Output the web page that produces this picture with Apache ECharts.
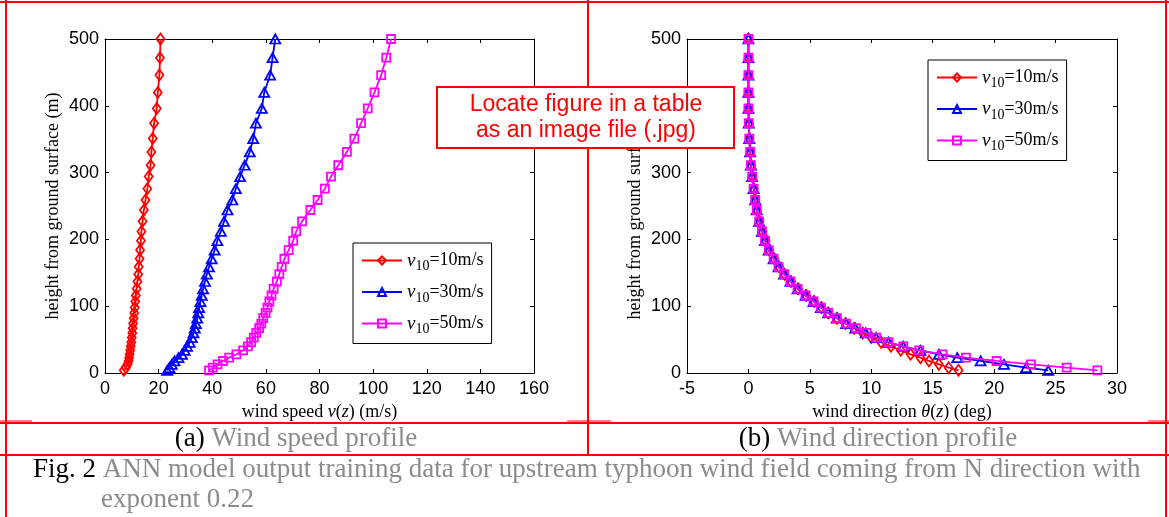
<!DOCTYPE html>
<html><head><meta charset="utf-8">
<script src="https://cdn.jsdelivr.net/npm/echarts@6/dist/echarts.min.js"></script>
<style>html,body{margin:0;padding:0;background:#fff}#c{width:1169px;height:517px}</style>
</head><body><div id="c"></div>
<script>
// heights (m) from ground, shared by all profiles
const heights = [4, 8, 13, 18, 23, 28, 34, 40, 46, 53, 60, 67, 74, 82, 90, 98, 107, 116, 126, 137, 148, 159, 171, 184, 198, 212, 227, 244, 259, 276, 294, 311, 331, 351, 374, 396, 420, 446, 472, 500];
// wind speed v(z) (m/s)
const speed10 = [7.0, 7.8, 8.4, 8.8, 9.0, 9.2, 9.4, 9.6, 9.8, 10.0, 10.2, 10.3, 10.5, 10.7, 10.9, 11.1, 11.3, 11.5, 11.8, 12.1, 12.4, 12.6, 12.9, 13.1, 13.4, 13.6, 14.0, 14.5, 15.1, 15.8, 16.3, 17.0, 17.3, 17.8, 18.3, 19.3, 19.7, 20.3, 20.5, 20.7];
const speed30 = [23.2, 24.0, 24.9, 25.9, 27.4, 28.7, 29.7, 30.6, 31.6, 32.4, 33.0, 33.5, 33.9, 34.4, 34.8, 35.1, 35.6, 36.1, 36.6, 37.3, 38.0, 38.8, 39.8, 40.9, 41.9, 43.2, 44.4, 45.7, 47.5, 48.8, 50.4, 52.1, 54.0, 55.3, 56.3, 58.5, 59.4, 61.6, 62.5, 63.5];
const speed50 = [38.8, 40.2, 42.0, 44.0, 46.3, 49.0, 51.5, 53.3, 54.5, 55.5, 56.4, 57.5, 58.3, 59.0, 59.9, 60.6, 61.3, 62.1, 62.9, 64.1, 65.0, 65.9, 66.9, 68.5, 70.2, 71.3, 73.5, 76.6, 79.3, 82.0, 84.3, 87.0, 90.2, 93.0, 95.5, 98.0, 100.5, 103.0, 104.9, 106.7];
// wind direction theta(z) (deg)
const dir10 = [17.1, 16.3, 15.5, 14.7, 14.0, 13.2, 12.4, 11.6, 10.8, 10.0, 9.3, 8.6, 7.9, 7.2, 6.5, 5.95, 5.35, 4.7, 4.05, 3.47, 2.95, 2.5, 2.1, 1.7, 1.4, 1.14, 0.9, 0.7, 0.57, 0.44, 0.32, 0.22, 0.15, 0.08, 0.04, 0.01, 0, 0, 0, 0];
const dir30 = [24.4, 22.6, 20.8, 18.9, 17.0, 15.5, 14.0, 12.6, 11.4, 10.4, 9.55, 8.7, 7.95, 7.2, 6.5, 5.9, 5.3, 4.65, 4.0, 3.42, 2.9, 2.45, 2.05, 1.65, 1.35, 1.1, 0.87, 0.68, 0.55, 0.42, 0.3, 0.2, 0.14, 0.07, 0.03, 0, 0, 0, 0, 0];
const dir50 = [28.4, 25.9, 23.0, 20.2, 17.7, 15.8, 13.9, 12.6, 11.4, 10.4, 9.6, 8.75, 7.95, 7.2, 6.5, 5.9, 5.3, 4.65, 4.0, 3.42, 2.9, 2.45, 2.05, 1.65, 1.35, 1.1, 0.87, 0.68, 0.55, 0.42, 0.3, 0.2, 0.14, 0.07, 0.03, 0, 0, 0, 0, 0];

const seriesNames = ['v10=10m/s', 'v10=30m/s', 'v10=50m/s'];
const legendTexts = ['=10m/s', '=30m/s', '=50m/s'];
const speedTicks = [0, 160, 20];
const dirTicks = [-5, 30, 5];
const heightTicks = [0, 500, 100];

const colors = ['#ff0000', '#0000ff', '#ff00ff'];
const symbols = ['diamond', 'triangle', 'rect'];
const symbolSizes = [[8, 11], [10, 9], [8, 8]];
const serif = "'Liberation Serif','Times New Roman',serif";
const sans = "'Liberation Sans',Arial,sans-serif";

const chart = echarts.init(document.getElementById('c'));

function mkSeries(xs, k, gi) {
  return {
    name: seriesNames[k], type: 'line', xAxisIndex: gi * 2, yAxisIndex: gi * 2,
    data: xs.map((x, i) => [x, heights[i]]),
    symbol: symbols[k], symbolSize: symbolSizes[k], showSymbol: true, showAllSymbol: true,
    lineStyle: { color: colors[k], width: 1.8 },
    itemStyle: { color: 'rgba(255,255,255,0)', borderColor: colors[k], borderWidth: 1.8 },
    emphasis: { disabled: true }, z: 2 + k, animation: false
  };
}

const common = {
  type: 'value',
  axisLine: { show: true, onZero: false, lineStyle: { color: '#000', width: 1 } },
  axisTick: { show: true, inside: true, length: 4, lineStyle: { color: '#000' } },
  splitLine: { show: false }
};
const tickLabel = { fontFamily: sans, fontSize: 18, color: '#000' };
const nameRich = {
  n: { fontFamily: serif, fontSize: 18, color: '#000' },
  i: { fontFamily: serif, fontSize: 18, color: '#000', fontStyle: 'italic' }
};

function xAxes(gi, t, name) {
  return [
    Object.assign({}, common, { gridIndex: gi, min: t[0], max: t[1], interval: t[2], position: 'bottom',
      axisLabel: Object.assign({ margin: 7 }, tickLabel),
      name: name, nameLocation: 'middle', nameGap: 29, nameTextStyle: { rich: nameRich } }),
    Object.assign({}, common, { gridIndex: gi, min: t[0], max: t[1], interval: t[2], position: 'top',
      axisLabel: { show: false } })
  ];
}
function yAxes(gi) {
  const t = heightTicks;
  return [
    Object.assign({}, common, { gridIndex: gi, min: t[0], max: t[1], interval: t[2], position: 'left',
      axisLabel: Object.assign({ margin: 6 }, tickLabel),
      name: 'height from ground surface (m)', nameLocation: 'middle', nameGap: 43,
      nameTextStyle: { fontFamily: serif, fontSize: 18, color: '#000' } }),
    Object.assign({}, common, { gridIndex: gi, min: t[0], max: t[1], interval: t[2], position: 'right',
      axisLabel: { show: false } })
  ];
}

const legendRich = {
  v: { fontFamily: serif, fontSize: 19, fontStyle: 'italic', color: '#000' },
  s: { fontFamily: serif, fontSize: 14, color: '#000', padding: [12, 0, 0, 0] },
  t: { fontFamily: serif, fontSize: 18, color: '#000' }
};
function mkLegend(left, top) {
  return {
    orient: 'vertical', left: left, top: top, padding: [8, 8, 7, 8],
    itemWidth: 40, itemHeight: 10, itemGap: 9,
    borderColor: '#000', borderWidth: 1, backgroundColor: '#fff',
    data: seriesNames, selectedMode: false,
    formatter: function (name) {
      const k = seriesNames.indexOf(name);
      return '{v|v}{s|10}{t|' + legendTexts[k] + '}';
    },
    textStyle: { rich: legendRich }
  };
}

function hline(x1, x2, y, w) { return { type: 'line', shape: { x1: x1, y1: y, x2: x2, y2: y }, style: { stroke: '#ff0000', lineWidth: w || 2 }, z: 50 }; }
function vline(x, y1, y2, w) { return { type: 'line', shape: { x1: x, y1: y1, x2: x, y2: y2 }, style: { stroke: '#ff0000', lineWidth: w || 2 }, z: 50 }; }
const capRich = {
  b: { fontFamily: serif, fontSize: 27, fill: '#000', color: '#000' },
  g: { fontFamily: serif, fontSize: 27, fill: '#8c8c8c', color: '#8c8c8c' }
};
function capText(x, y, txt, align) {
  return { type: 'text', x: x, y: y, z: 60,
    style: { text: txt, align: align, verticalAlign: 'middle', rich: capRich, fontFamily: serif, fontSize: 27 } };
}

chart.setOption({
  animation: false,
  backgroundColor: '#fff',
  grid: [
    { left: 105, top: 39, width: 429, height: 334, containLabel: false },
    { left: 687, top: 39, width: 430, height: 334, containLabel: false }
  ],
  xAxis: xAxes(0, speedTicks, '{n|wind speed }{i|v}{n|(}{i|z}{n|) (m/s)}')
    .concat(xAxes(1, dirTicks, '{n|wind direction }{i|θ}{n|(}{i|z}{n|) (deg)}')),
  yAxis: yAxes(0).concat(yAxes(1)),
  legend: [mkLegend(353, 243), mkLegend(928, 60)],
  series: [
    mkSeries(speed10, 0, 0), mkSeries(speed30, 1, 0), mkSeries(speed50, 2, 0),
    mkSeries(dir10, 0, 1), mkSeries(dir30, 1, 1), mkSeries(dir50, 2, 1)
  ],
  graphic: [
    hline(0, 1169, 2), vline(6, 0, 517), vline(1166, 0, 517), vline(588, 0, 455),
    hline(0, 1169, 423), hline(0, 32, 421, 1), hline(567, 611, 421, 1), hline(1148, 1169, 421, 1),
    hline(0, 1169, 455),
    capText(296, 439, '{b|(a)} {g|Wind speed profile}', 'center'),
    capText(878, 439, '{b|(b)} {g|Wind direction profile}', 'center'),
    capText(33, 470, '{b|Fig. 2} {g|ANN model output training data for upstream typhoon wind field coming from N direction with}', 'left'),
    capText(101, 500, '{g|exponent 0.22}', 'left'),
    { type: 'rect', z: 100, shape: { x: 437, y: 87, width: 297, height: 61 },
      style: { fill: '#fff', stroke: '#ff0000', lineWidth: 2 } },
    { type: 'text', z: 101, x: 586, y: 105, style: { text: 'Locate figure in a table', fontFamily: sans, fontSize: 23, fill: '#ff0000', align: 'center', verticalAlign: 'middle' } },
    { type: 'text', z: 101, x: 586, y: 131, style: { text: 'as an image file (.jpg)', fontFamily: sans, fontSize: 23, fill: '#ff0000', align: 'center', verticalAlign: 'middle' } }
  ]
});
</script></body></html>
